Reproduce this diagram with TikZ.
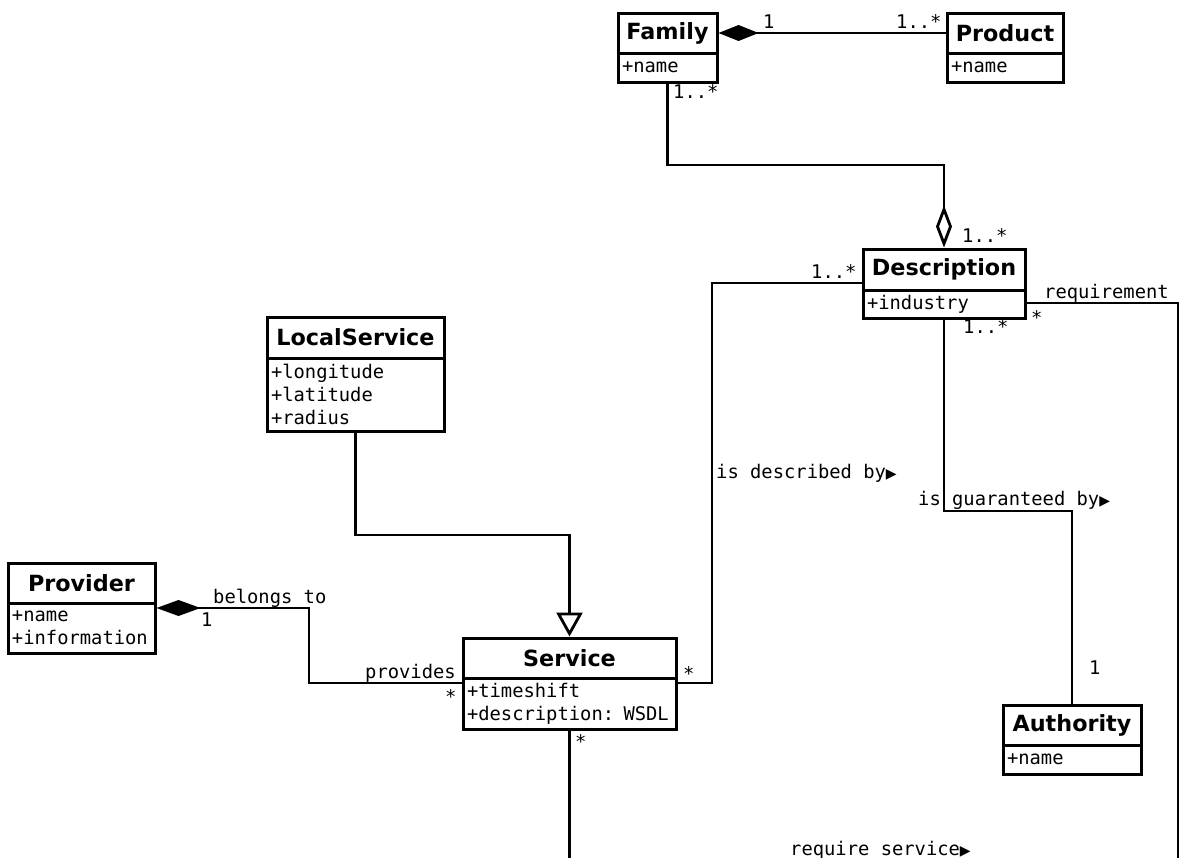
\documentclass[tikz,border=0pt]{standalone}
\usepackage{fontspec}
\newfontfamily\dvs{DejaVu Sans}
\newfontfamily\dvm{DejaVu Sans Mono}
\usetikzlibrary{arrows.meta}
\newcommand{\tri}{{\dvs\fontsize{14}{14}\selectfont ▶}}
\begin{document}
\begin{tikzpicture}[x=1pt,y=-1pt,
  ctitle/.style={draw, line width=3pt, inner sep=0pt, font=\dvs\bfseries\fontsize{22.3}{24}\selectfont},
  cattr/.style={draw, line width=3pt, inner xsep=4pt, inner ysep=0pt, align=left, font=\dvm\fontsize{18.8}{23.3}\selectfont},
  conn/.style={line width=2.8pt},
  lbl/.style={inner sep=0pt, anchor=base west, font=\dvm\fontsize{18.8}{22}\selectfont}]
\useasboundingbox (0,0) rectangle (1180,857);
\begin{scope}
\clip (0,0) rectangle (1180,857);
% classes
\node[ctitle, minimum width=99pt, minimum height=40pt] (family) at (667.5,33) {Family};
\node[cattr, minimum width=99pt, text width=91pt, minimum height=29pt] (familyA) at (667.5,67.5) {+name};
\node[ctitle, minimum width=116pt, minimum height=40pt] (product) at (1005,33) {Product};
\node[cattr, minimum width=116pt, text width=108pt, minimum height=29pt] (productA) at (1005,67.5) {+name};
\node[ctitle, minimum width=162pt, minimum height=41pt] (desc) at (944,269.5) {Description};
\node[cattr, minimum width=162pt, text width=154pt, minimum height=28pt] (descA) at (944,304) {+industry};
\node[ctitle, minimum width=177pt, minimum height=41pt] (local) at (355.5,337.5) {LocalService};
\node[cattr, minimum width=177pt, text width=169pt, minimum height=73pt] (localA) at (355.5,394.5) {+longitude\\+latitude\\+radius};
\node[ctitle, minimum width=147pt, minimum height=40pt] (provider) at (81.5,583) {Provider};
\node[cattr, minimum width=147pt, text width=139pt, minimum height=50pt] (providerA) at (81.5,628) {+name\\+information};
\node[ctitle, minimum width=213pt, minimum height=40pt] (service) at (569.5,658) {Service};
\node[cattr, minimum width=213pt, text width=205pt, minimum height=51pt] (serviceA) at (569.5,703.5) {+timeshift\\+description: WSDL};
\node[ctitle, minimum width=138pt, minimum height=40pt] (auth) at (1072,725) {Authority};
\node[cattr, minimum width=138pt, text width=130pt, minimum height=29pt] (authA) at (1072,759.5) {+name};
\coordinate (reqEnd) at (1178,860);
\coordinate (svcEnd) at (569.5,860);
% connectors
\draw[conn, {Diamond[length=40pt,width=16pt]}-] (family.east) -- (product.west);
\draw[conn, -{Diamond[open,length=42pt,width=16pt]}] (familyA.south) |- (944,165) -- (desc.north);
\draw[conn] (desc.west |- 0,283) -| (712,683) -- (serviceA.east |- 0,683);
\draw[conn] (descA.east |- 0,303) -- (1178,303) -- (reqEnd);
\draw[conn] (descA.south) -- (944,511) -| (auth.north);
\draw[conn, -{Triangle[open,length=24pt,width=26pt]}] (localA.south) |- (569.5,535) -- (service.north);
\draw[conn, {Diamond[length=44pt,width=16pt]}-] (providerA.east |- 0,608) -| (309,683) -- (serviceA.west |- 0,683);
\draw[conn] (serviceA.south) -- (svcEnd);
% labels
\node[lbl] (l1) at (763,28) {1};
\node[lbl] (l2) at (896,28) {1..*};
\node[lbl] (l3) at (673,98) {1..*};
\node[lbl] (l4) at (962,242) {1..*};
\node[lbl] (l5) at (811,278) {1..*};
\node[lbl] (l6) at (1044,298) {requirement};
\node[lbl] (l7) at (1031,324) {*};
\node[lbl] (l8) at (963,333) {1..*};
\node[lbl] (l9) at (716,478) {is described by\tri};
\node[lbl] (l10) at (918,505) {is guaranteed by\tri};
\node[lbl] (l11) at (1089,674) {1};
\node[lbl] (l12) at (213,603) {belongs to};
\node[lbl] (l13) at (201,626) {1};
\node[lbl] (l14) at (365,678) {provides};
\node[lbl] (l15) at (445,703) {*};
\node[lbl] (l16) at (683,680) {*};
\node[lbl] (l17) at (575,748) {*};
\node[lbl] (l18) at (790,855) {require service\tri};
\end{scope}
\end{tikzpicture}
\end{document}
